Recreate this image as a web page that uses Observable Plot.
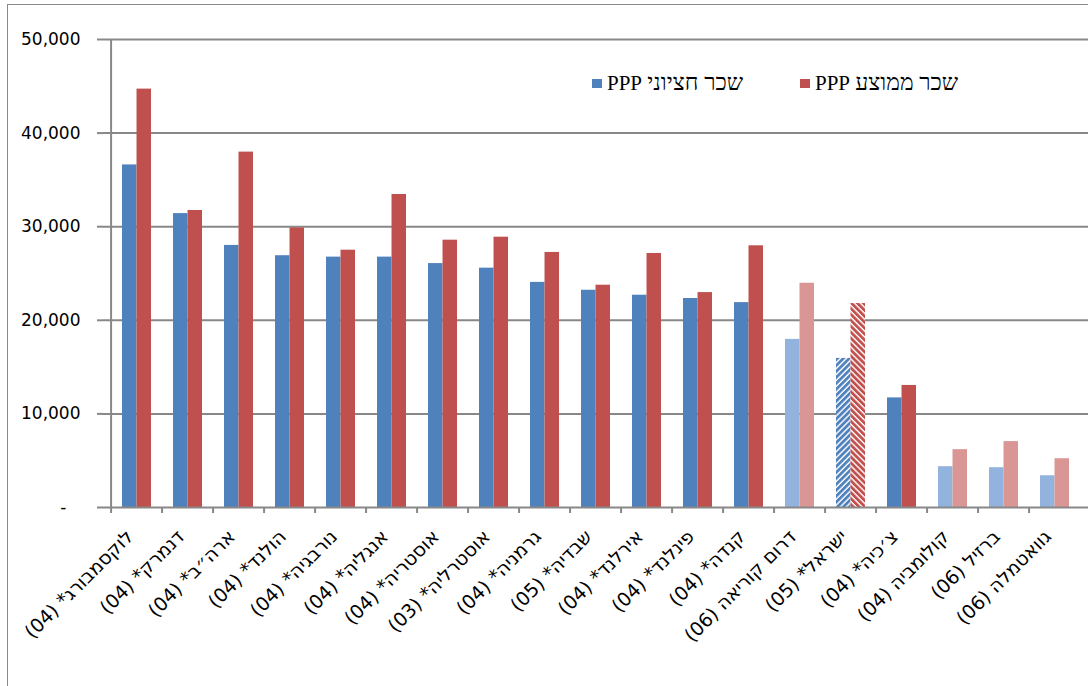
<!DOCTYPE html>
<html><head><meta charset="utf-8">
<script src="https://cdn.jsdelivr.net/npm/d3@7"></script>
<script src="https://cdn.jsdelivr.net/npm/@observablehq/plot@0.6"></script>
<style>
html,body{margin:0;padding:0;background:#fff;overflow:hidden;width:1088px;height:686px;}
#wrap{position:relative;width:1088px;height:686px;overflow:hidden;}
#border{position:absolute;left:7px;top:4px;width:2000px;height:2000px;border-top:1.5px solid #8a8a8a;border-left:1.5px solid #8a8a8a;box-sizing:border-box;pointer-events:none;}
#chart{position:absolute;left:0;top:0;}
.legend{position:absolute;top:70px;font-family:"Liberation Serif","Times New Roman",serif;font-size:21px;color:#000;display:flex;align-items:center;white-space:nowrap;}
.legend .he{font-size:23px;}
.sw{width:10px;height:9px;display:inline-block;margin-right:5px;}
</style></head>
<body>
<div id="wrap">
  <div id="chart"></div>
  <div id="border"></div>
  <div class="legend" id="leg0" style="left:592px"></div>
  <div class="legend" id="leg1" style="left:800px"></div>
</div>
<script>
const countries = ["לוקסמבורג* (04)","דנמרק* (04)","ארה״ב* (04)","הולנד* (04)","נורבגיה* (04)","אנגליה* (04)","אוסטריה* (04)","אוסטרליה* (03)","גרמניה* (04)","שבדיה* (05)","אירלנד* (04)","פינלנד* (04)","קנדה* (04)","דרום קוריאה (06)","ישראל* (05)","צ׳כיה* (04)","קולומביה (04)","ברזיל (06)","גוואטמלה (06)"];
const medianWage = [36600,31400,28000,26900,26750,26750,26060,25570,24050,23210,22680,22330,21890,17960,15930,11710,4360,4250,3390];
const meanWage   = [44700,31730,37970,29870,27490,33440,28560,28880,27250,23750,27140,22960,27960,23960,21790,13040,6180,7040,5210];
const seriesNames = ["שכר חציוני","שכר ממוצע"];
const seriesUnit = "PPP";
const yTicks = [0,10000,20000,30000,40000,50000];
const highlighted = "ישראל* (05)";

const data = countries.map((c,i)=>({country:c, median:medianWage[i], mean:meanWage[i], star:c.includes("*")}));

const W = 1088, H = 686, mL = 103, mR = 0, mT = 39, mB = 179;
const step = (W - mL - mR) / countries.length;
const bw = step * 0.56;
const dark = ["#4F81BD","#C0504D"], light = ["#92B3DD","#D99694"];

const fillFor = (d, s) => {
  if (d.country === highlighted) return s === 0 ? "url(#hatchBlue)" : "url(#hatchRed)";
  return d.star ? dark[s] : light[s];
};
const grid = "#888888";

seriesNames.forEach((n,i)=>{
  const el = document.getElementById("leg"+i);
  el.innerHTML = `<span class="sw" style="background:${dark[i]}"></span><span>${seriesUnit}&nbsp;</span><span class="he" dir="rtl">${n}</span>`;
});

const plot = Plot.plot({
  width: W, height: H,
  marginLeft: mL, marginRight: mR, marginTop: mT, marginBottom: mB,
  style: {fontFamily: "DejaVu Sans, sans-serif", fontSize: "17px", color: "#000", background: "transparent"},
  x: {domain: countries, paddingInner: 0.44, paddingOuter: 0.22, label: null, axis: null},
  y: {domain: [0, 50000], label: null},
  marks: [
    Plot.gridY(yTicks.filter(t=>t>0), {stroke: grid, strokeOpacity: 1, strokeWidth: 2}),
    Plot.barY(data, {x: "country", y: "median", fill: d => fillFor(d,0), insetRight: bw/2}),
    Plot.barY(data, {x: "country", y: "mean", fill: d => fillFor(d,1), insetLeft: bw/2}),
    Plot.ruleY([0], {stroke: grid, strokeWidth: 2}),
    Plot.ruleX([countries[0]], {x: d => d, dx: -step/2, stroke: grid, strokeWidth: 2}),
    Plot.ruleX(countries, {x: d => d, dx: -step/2, y1: 0, y2: 0, insetBottom: -6, stroke: grid, strokeWidth: 2}),
    Plot.axisY({ticks: yTicks, tickSize: 6, tickPadding: 17, stroke: grid, strokeWidth: 2, fill: "#000",
      tickFormat: v => v === 0 ? "-\u2007\u2009" : d3.format(",")(v), fontSize: 17}),
    Plot.text(countries, {x: d => d, frameAnchor: "bottom", text: d => d + "\u200F", rotate: -45,
      textAnchor: "end", lineAnchor: "middle", dx: -7, dy: 26, fontSize: 19, fill: "#000"})
  ]
});

const defs = `<defs>
<pattern id="hatchBlue" patternUnits="userSpaceOnUse" width="4.2" height="4.2" patternTransform="rotate(45)">
<rect width="4.2" height="4.2" fill="#fff"/><rect width="2.8" height="4.2" fill="#4F81BD"/></pattern>
<pattern id="hatchRed" patternUnits="userSpaceOnUse" width="4.2" height="4.2" patternTransform="rotate(-45)">
<rect width="4.2" height="4.2" fill="#fff"/><rect width="2.8" height="4.2" fill="#C0504D"/></pattern>
</defs>`;
d3.select(plot).insert("g", ":first-child").html(defs);
document.getElementById("chart").appendChild(plot);
</script>
</body></html>
